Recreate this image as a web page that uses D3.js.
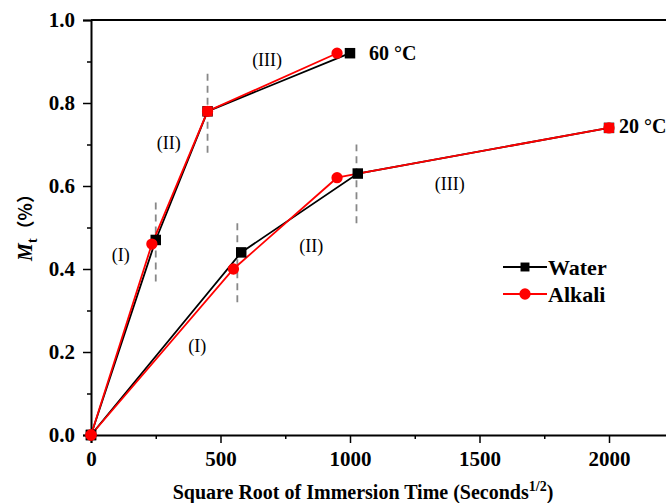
<!DOCTYPE html>
<html>
<head>
<meta charset="utf-8">
<script src="https://cdn.jsdelivr.net/npm/d3@7"></script>
<style>
  body { margin: 0; background: #fff; }
  text { font-family: "Liberation Serif", "Times New Roman", serif; }
</style>
</head>
<body>
<svg id="chart"></svg>
<script>
// datos
var water60X = [0, 250, 450, 1000];
var water60Y = [0, 0.47, 0.78, 0.92];
var alkali60X = [0, 235, 450, 950];
var alkali60Y = [0, 0.46, 0.78, 0.92];
var water20X = [0, 580, 1030, 2000];
var water20Y = [0, 0.44, 0.63, 0.74];
var alkali20X = [0, 550, 950, 1030, 2000];
var alkali20Y = [0, 0.40, 0.62, 0.63, 0.74];

// lineas discontinuas: x, y inicio, y fin
var dashX = [250, 450, 565, 1025];
var dashY0 = [0.37, 0.68, 0.32, 0.51];
var dashY1 = [0.57, 0.88, 0.51, 0.70];

var stageText = ["(I)", "(II)", "(III)", "(I)", "(II)", "(III)"];
var stageX = [115, 300, 680, 410, 850, 1385];
var stageY = [0.43, 0.70, 0.90, 0.21, 0.45, 0.60];

var xTicks = [0, 500, 1000, 1500, 2000];
var yTicks = [0, 0.2, 0.4, 0.6, 0.8, 1.0];

var svgWidth = 666, svgHeight = 503;
var svg = d3.select("#chart").attr("width", svgWidth).attr("height", svgHeight);

var x = d3.scaleLinear().domain([0, 2250]).range([91, 91 + 2250 * 0.259]);
var y = d3.scaleLinear().domain([0, 1]).range([435, 20]);

// marco superior
svg.append("line")
  .attr("x1", 91).attr("x2", svgWidth).attr("y1", y(1)).attr("y2", y(1))
  .attr("stroke", "black").attr("stroke-width", 2);

// ejes
var ejeX = svg.append("g").attr("transform", "translate(0," + y(0) + ")")
  .call(d3.axisBottom(x).tickValues(d3.range(0, 2251, 250)).tickSize(8).tickPadding(8)
    .tickFormat(function (d) { return xTicks.indexOf(d) >= 0 ? d : ""; }));
ejeX.selectAll(".tick line").attr("y2", function (d) { return d % 500 === 0 ? 8 : 4; });

var ejeY = svg.append("g").attr("transform", "translate(91,0)")
  .call(d3.axisLeft(y).tickValues(d3.range(0, 1.01, 0.1)).tickSize(8).tickPadding(8)
    .tickFormat(function (d, i) { return i % 2 === 0 ? d3.format(".1f")(d) : ""; }));
ejeY.selectAll(".tick line").attr("x2", function (d, i) { return i % 2 === 0 ? -8 : -4; });

[ejeX, ejeY].forEach(function (g) {
  g.select(".domain").attr("stroke-width", 2);
  g.selectAll(".tick line").attr("stroke-width", 1.5);
  g.selectAll(".tick text").attr("font-size", 21).attr("font-weight", "bold")
    .attr("font-family", "Liberation Serif");
});

// lineas discontinuas
dashX.forEach(function (dx, i) {
  svg.append("line")
    .attr("x1", x(dx)).attr("x2", x(dx)).attr("y1", y(dashY0[i])).attr("y2", y(dashY1[i]))
    .attr("stroke", "#888").attr("stroke-width", 1.8).attr("stroke-dasharray", "7,5");
});

var linea = d3.line().x(function (d) { return x(d[0]); }).y(function (d) { return y(d[1]); });

function serie(xs, ys, color) {
  var pts = d3.zip(xs, ys);
  svg.append("path").datum(pts).attr("d", linea)
    .attr("fill", "none").attr("stroke", color).attr("stroke-width", 1.8);
  return pts;
}

function marcas(pts, color, forma) {
  var sym = d3.symbol().type(forma === "square" ? d3.symbolSquare : d3.symbolCircle)
    .size(forma === "square" ? 110 : 100);
  svg.selectAll(null).data(pts).enter().append("path")
    .attr("d", sym).attr("fill", color)
    .attr("transform", function (d) { return "translate(" + x(d[0]) + "," + y(d[1]) + ")"; });
}

var w60 = serie(water60X, water60Y, "black");
var w20 = serie(water20X, water20Y, "black");
var a60 = serie(alkali60X, alkali60Y, "#ff0000");
var a20 = serie(alkali20X, alkali20Y, "#ff0000");
marcas(w60, "black", "square");
marcas(w20, "black", "square");
marcas(a60, "#ff0000", "circle");
marcas(a20.filter(function (d) { return d[0] !== 1030; }), "#ff0000", "circle");
// el marcador en 2000 y 450 se ve rojo cuadrado
[[2000, 0.74], [450, 0.78]].forEach(function (p) {
  svg.append("path").attr("d", d3.symbol().type(d3.symbolSquare).size(100))
    .attr("fill", "#ff0000")
    .attr("transform", "translate(" + x(p[0]) + "," + y(p[1]) + ")");
});

// etiquetas de etapas
stageText.forEach(function (t, i) {
  svg.append("text").attr("x", x(stageX[i])).attr("y", y(stageY[i]))
    .attr("text-anchor", "middle").attr("dominant-baseline", "middle")
    .attr("font-size", 18).text(t);
});

svg.append("text").attr("x", 369).attr("y", y(0.92)).attr("dy", "0.35em")
  .attr("font-size", 20).attr("font-weight", "bold").text("60 \u00B0C");
svg.append("text").attr("x", 619).attr("y", y(0.74)).attr("dy", "0.25em")
  .attr("font-size", 20).attr("font-weight", "bold").text("20 \u00B0C");

// leyenda
var leyenda = [["Water", "black", "square"], ["Alkali", "#ff0000", "circle"]];
leyenda.forEach(function (l, i) {
  var ly = 267 + i * 27;
  svg.append("line").attr("x1", 503).attr("x2", 547).attr("y1", ly).attr("y2", ly)
    .attr("stroke", l[1]).attr("stroke-width", 1.8);
  svg.append("path")
    .attr("d", d3.symbol().type(l[2] === "square" ? d3.symbolSquare : d3.symbolCircle).size(l[2] === "square" ? 80 : 100))
    .attr("fill", l[1]).attr("transform", "translate(525," + ly + ")");
  svg.append("text").attr("x", 548).attr("y", ly).attr("dy", "0.35em")
    .attr("font-size", 22).attr("font-weight", "bold").text(l[0]);
});

// titulos
var tx = svg.append("text").attr("x", 363).attr("y", 499).attr("text-anchor", "middle")
  .attr("font-size", 20).attr("font-weight", "bold");
tx.append("tspan").text("Square Root of Immersion Time (Seconds");
tx.append("tspan").attr("font-size", 14).attr("dy", -8).text("1/2");
tx.append("tspan").attr("dy", 8).text(")");

var ty = svg.append("text").attr("transform", "translate(32,223) rotate(-90)")
  .attr("text-anchor", "middle").attr("font-size", 20).attr("font-weight", "bold");
ty.append("tspan").attr("font-style", "italic").text("M");
ty.append("tspan").attr("font-size", 14).attr("dy", 5).text("t");
ty.append("tspan").attr("dy", -5).attr("font-family", "Noto Sans CJK SC").attr("font-size", 18).text("（%）");
</script>
</body>
</html>
